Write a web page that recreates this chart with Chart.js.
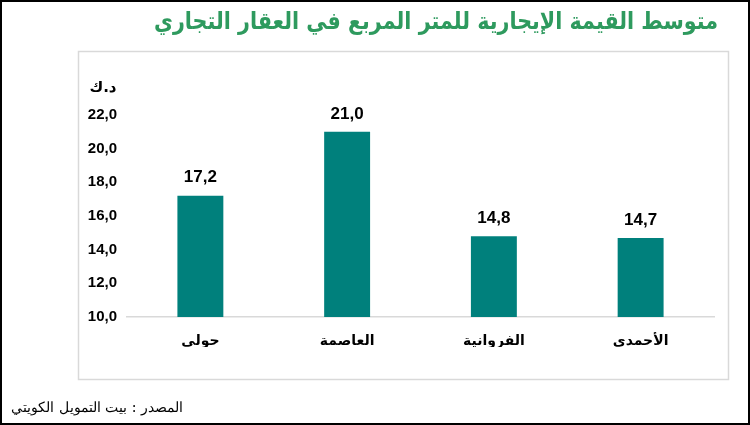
<!DOCTYPE html>
<html lang="ar">
<head>
<meta charset="utf-8">
<script src="https://cdn.jsdelivr.net/npm/chart.js@4"></script>
<style>
  html, body { margin: 0; padding: 0; background: #fff; }
  #wrap { width: 750px; height: 425px; position: relative; }
</style>
</head>
<body>
<div id="wrap"><canvas id="myChart" width="750" height="425"></canvas></div>
<script>
var categories = ['حولي', 'العاصمة', 'الفروانية', 'الأحمدي'];
var values = [17.2, 21.0, 14.8, 14.7];
var yMin = 10, yMax = 22, yStep = 2;
var titleText = 'متوسط القيمة الإيجارية للمتر المربع في العقار التجاري';
var unitText = 'د.ك';
var sourceText = 'المصدر : بيت التمويل الكويتي';

function fmt(v) {
  return v.toFixed(1).replace('.', ',');
}

// frames, title, unit and source note
var decor = {
  id: 'decor',
  beforeDraw: function(chart) {
    var c = chart.ctx;
    c.save();
    c.fillStyle = '#fff';
    c.fillRect(0, 0, chart.width, chart.height);
    c.strokeStyle = '#000';
    c.lineWidth = 2;
    c.strokeRect(1, 1, chart.width - 2, chart.height - 2);
    c.strokeStyle = '#d9d9d9';
    c.lineWidth = 1.5;
    c.strokeRect(78.5, 51.5, 650, 328);
    c.restore();
  },
  afterDraw: function(chart) {
    var c = chart.ctx;
    var area = chart.chartArea;
    c.save();
    c.direction = 'rtl';
    c.textBaseline = 'middle';

    // title squeezed to the width it has in the original (154..718)
    c.fillStyle = '#2e9a5e';
    c.font = 'bold 24px "DejaVu Sans", sans-serif';
    c.textAlign = 'center';
    var w = c.measureText(titleText).width;
    var sx = Math.min(1, 564 / w);
    c.save();
    c.translate(436, 23);
    c.scale(sx, 1);
    c.fillText(titleText, 0, 0);
    c.restore();

    c.fillStyle = '#000';
    c.font = 'bold 15px "DejaVu Sans", sans-serif';
    c.fillText(unitText, 103, area.top - 27);

    c.font = '14px "DejaVu Serif", serif';
    c.textAlign = 'right';
    c.fillText(sourceText, 183, 408);

    // value labels above bars
    c.direction = 'ltr';
    c.textAlign = 'center';
    c.font = 'bold 17px "Liberation Sans", Arial, sans-serif';
    chart.getDatasetMeta(0).data.forEach(function(bar, i) {
      c.fillText(fmt(values[i]), bar.x, bar.y - 18);
    });
    c.restore();
  }
};

var ctx = document.getElementById('myChart').getContext('2d');
var chart = new Chart(ctx, {
  type: 'bar',
  data: {
    labels: categories,
    datasets: [{
      data: values,
      backgroundColor: '#00807c',
      barPercentage: 0.313,
      categoryPercentage: 1
    }]
  },
  options: {
    responsive: false,
    animation: false,
    devicePixelRatio: 1,
    layout: { padding: { left: 78, right: 36, top: 115, bottom: 78 } },
    plugins: {
      legend: { display: false },
      tooltip: { enabled: false }
    },
    scales: {
      x: {
        grid: { display: false },
        border: { display: true, color: '#d9d9d9', width: 1.5 },
        ticks: {
          color: '#000',
          padding: 8,
          font: { family: '"DejaVu Sans", sans-serif', size: 14, weight: 'bold' }
        },
        afterFit: function(s) { s.height = 30; }
      },
      y: {
        min: yMin,
        max: yMax,
        grid: { display: false, drawTicks: false },
        border: { display: false },
        ticks: {
          stepSize: yStep,
          color: '#000',
          padding: 10,
          font: { family: '"Liberation Sans", Arial, sans-serif', size: 15, weight: 'bold' },
          callback: function(v) { return fmt(v); }
        },
        afterFit: function(s) { s.width = 49; }
      }
    }
  },
  plugins: [decor]
});
</script>
</body>
</html>
